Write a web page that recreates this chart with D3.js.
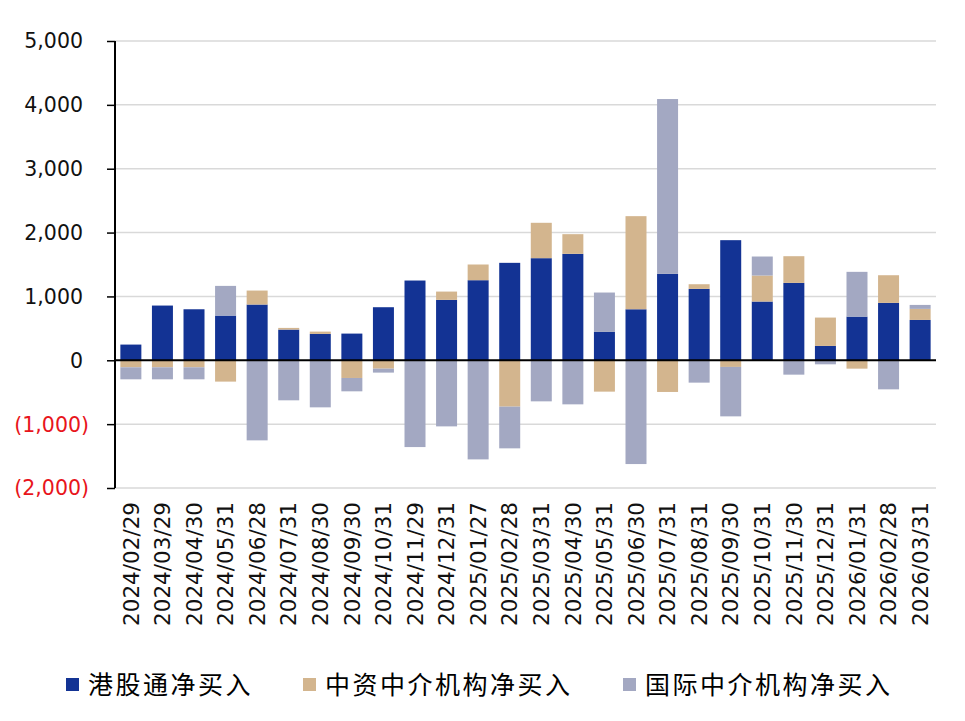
<!DOCTYPE html>
<html>
<head>
<meta charset="utf-8">
<script src="https://cdn.jsdelivr.net/npm/d3@7"></script>
<style>
  html, body { margin: 0; padding: 0; background: #fff; }
  svg { display: block; }
</style>
</head>
<body>
<svg id="chart" width="965" height="721"></svg>
<script>
// data
const dates = ["2024/02/29","2024/03/29","2024/04/30","2024/05/31","2024/06/28","2024/07/31",
  "2024/08/30","2024/09/30","2024/10/31","2024/11/29","2024/12/31","2025/01/27","2025/02/28",
  "2025/03/31","2025/04/30","2025/05/31","2025/06/30","2025/07/31","2025/08/31","2025/09/30",
  "2025/10/31","2025/11/30","2025/12/31","2026/01/31","2026/02/28","2026/03/31"];
const southbound = [246, 857, 799, 700, 873, 481, 413, 418, 831, 1249, 946, 1254, 1526,
  1599, 1667, 444, 799, 1353, 1118, 1881, 920, 1212, 225, 684, 899, 632];
const chineseBrokers = [-110, -110, -110, -334, 219, 26, 36, -277, -131, 0, 130, 246, -726,
  554, 308, -491, 1458, -496, 73, -104, 407, 418, 444, -131, 433, 173];
const intlBrokers = [-188, -188, -188, 465, -1254, -627, -737, -209, -62, -1359, -1035, -1552, -653,
  -643, -690, 617, -1625, 2738, -350, -774, 298, -225, -63, 701, -455, 62];
const seriesNames = ["港股通净买入", "中资中介机构净买入", "国际中介机构净买入"];
const seriesColors = ["#133394", "#d3b58e", "#a3a8c2"];
const yTicks = [-2000, -1000, 0, 1000, 2000, 3000, 4000, 5000];

const margin = {top: 41, right: 29, bottom: 233, left: 115};
const svg = d3.select("#chart");
const width = 965 - margin.left - margin.right;
const height = 721 - margin.top - margin.bottom;

const g = svg.append("g").attr("transform", "translate(" + margin.left + "," + margin.top + ")");

const keys = ["a", "b", "c"];
const rows = dates.map((d, i) => ({date: d, a: southbound[i], b: chineseBrokers[i], c: intlBrokers[i]}));
const stacked = d3.stack().keys(keys).offset(d3.stackOffsetDiverging)(rows);

const x = d3.scaleBand().domain(dates).range([0, width]).paddingInner(0.335).paddingOuter(0.17);
const y = d3.scaleLinear().domain([-2000, 5000]).range([height, 0]);

// gridlines
g.append("g").selectAll("line").data(yTicks.filter(t => t !== 0)).join("line")
  .attr("x1", 0).attr("x2", width)
  .attr("y1", d => y(d)).attr("y2", d => y(d))
  .attr("stroke", "#d9d9d9").attr("stroke-width", 1.5);

// bars
g.append("g").selectAll("g").data(stacked).join("g")
  .attr("fill", (d, i) => seriesColors[i])
  .selectAll("rect").data(d => d).join("rect")
  .attr("x", d => x(d.data.date))
  .attr("width", x.bandwidth())
  .attr("y", d => y(Math.max(d[0], d[1])))
  .attr("height", d => Math.abs(y(d[0]) - y(d[1])));

// zero line
g.append("line").attr("x1", 0).attr("x2", width)
  .attr("y1", y(0)).attr("y2", y(0))
  .attr("stroke", "#000").attr("stroke-width", 2);

// y axis
const yAxis = d3.axisLeft(y).tickValues(yTicks).tickSize(8).tickFormat("");
const ya = g.append("g").call(yAxis);
ya.select(".domain").attr("stroke", "#000").attr("stroke-width", 2).attr("d", "M0," + y(-2000) + "V" + y(5000));
ya.selectAll(".tick line").attr("stroke", "#000").attr("stroke-width", 1.5);

const fmt = d3.format(",");
g.append("g").selectAll("text").data(yTicks).join("text")
  .attr("x", d => d < 0 ? -26 : -32)
  .attr("y", d => y(d))
  .attr("dy", "0.36em")
  .attr("text-anchor", "end")
  .attr("font-family", "DejaVu Sans, sans-serif")
  .attr("font-size", 20.5)
  .attr("fill", d => d < 0 ? "#e8141b" : "#111")
  .text(d => d < 0 ? "(" + fmt(-d) + ")" : fmt(d));

// x labels
g.append("g").selectAll("text").data(dates).join("text")
  .attr("transform", d => "translate(" + (x(d) + x.bandwidth() / 2) + "," + (height + 14) + ") rotate(-90)")
  .attr("dy", "0.36em")
  .attr("text-anchor", "end")
  .attr("font-family", "DejaVu Sans, sans-serif")
  .attr("font-size", 21.5)
  .attr("fill", "#111")
  .text(d => d);

// legend
const legendX = [66, 303, 623];
const legend = svg.append("g").selectAll("g").data(seriesNames).join("g")
  .attr("transform", (d, i) => "translate(" + legendX[i] + ",678)");
legend.append("rect").attr("width", 13).attr("height", 13).attr("fill", (d, i) => seriesColors[i]);
legend.append("text")
  .attr("x", 22).attr("y", 16)
  .attr("font-family", "Noto Sans CJK SC, sans-serif")
  .attr("font-size", 25)
  .attr("letter-spacing", 2.5)
  .attr("fill", "#000")
  .text(d => d);
</script>
</body>
</html>
